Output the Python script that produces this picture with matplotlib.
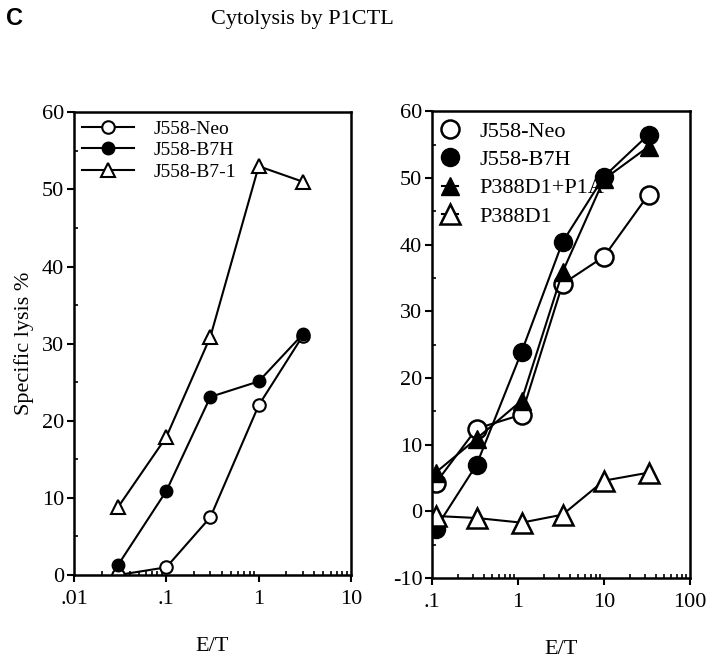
import numpy as np
import matplotlib
matplotlib.use('Agg')
import matplotlib.pyplot as plt
from matplotlib.ticker import FixedLocator, FixedFormatter, LogLocator, MultipleLocator, NullFormatter

plt.rcParams['font.family'] = ['Liberation Serif', 'DejaVu Serif']
plt.rcParams['axes.unicode_minus'] = False

# left panel data
et_left = [0.03, 0.1, 0.3, 1, 3]
neo_left = [0.0, 1.0, 7.5, 22.0, 31.0]
b7h_left = [1.3, 10.9, 23.1, 25.1, 31.2]
b71_left = [8.8, 17.9, 30.9, 53.0, 51.0]

# right panel data
et_right = [0.11, 0.33, 1.1, 3.3, 10, 33]
neo_right = [4.2, 12.4, 14.5, 34.1, 38.2, 47.5]
b7h_right = [-2.6, 7.0, 23.9, 40.4, 50.2, 56.5]
p1a_right = [5.8, 10.9, 16.6, 35.9, 49.8, 54.7]
p388_right = [-0.7, -1.0, -1.7, -0.5, 4.6, 5.8]

left_xticks = [0.01, 0.1, 1, 10]
left_xlabels = ['.01', '.1', '1', '10']
right_xticks = [0.1, 1, 10, 100]
right_xlabels = ['.1', '1', '10', '100']

fig = plt.figure(figsize=(7.2, 6.63), dpi=100)
ax1 = fig.add_axes([0.1028, 0.1327, 0.3847, 0.698])
ax2 = fig.add_axes([0.6, 0.1282, 0.3583, 0.704])

lw = 1.5
ax1.plot(et_left, neo_left, '-o', color='black', mfc='white', mec='black', ms=9, lw=lw, mew=1.5, label='J558-Neo')
ax1.plot(et_left, b7h_left, '-o', color='black', mfc='black', ms=9, lw=lw, label='J558-B7H')
ax1.plot(et_left, b71_left, '-^', color='black', mfc='white', mec='black', ms=10, lw=lw, mew=1.5, label='J558-B7-1')

ax2.plot(et_right, neo_right, '-o', color='black', mfc='white', mec='black', ms=13, lw=lw, mew=1.8, label='J558-Neo')
ax2.plot(et_right, b7h_right, '-o', color='black', mfc='black', ms=13, lw=lw, label='J558-B7H')
ax2.plot(et_right, p1a_right, '-^', color='black', mfc='black', ms=13, lw=lw, label='P388D1+P1A')
ax2.plot(et_right, p388_right, '-^', color='black', mfc='white', mec='black', ms=14, lw=lw, mew=1.8, label='P388D1')

for ax, xt, xl, xlim, ylim in [(ax1, left_xticks, left_xlabels, (0.01, 10), (0, 60)),
                               (ax2, right_xticks, right_xlabels, (0.1, 100), (-10, 60))]:
    ax.set_xscale('log')
    ax.set_xlim(*xlim)
    ax.set_ylim(*ylim)
    ax.xaxis.set_major_locator(FixedLocator(xt))
    ax.xaxis.set_major_formatter(FixedFormatter(xl))
    ax.xaxis.set_minor_locator(LogLocator(base=10, subs=np.arange(2, 10)))
    ax.xaxis.set_minor_formatter(NullFormatter())
    ax.yaxis.set_major_locator(MultipleLocator(10))
    ax.yaxis.set_minor_locator(MultipleLocator(5))
    ax.tick_params(which='major', direction='out', length=5, width=1.5, labelsize=16, pad=6)
    ax.tick_params(which='minor', direction='in', length=3, width=1.2)
    ax.tick_params(axis='y', which='major', pad=2)
    for s in ax.spines.values():
        s.set_linewidth(1.8)

ax1.set_xlabel('E/T', fontsize=16, labelpad=20)
ax2.set_xlabel('E/T', fontsize=16, labelpad=20)
ax1.set_ylabel('Specific lysis %', fontsize=16, labelpad=6)

ax1.legend(loc='upper left', frameon=False, fontsize=14, handlelength=2.7,
           handletextpad=1.0, labelspacing=0.2, borderaxespad=0.2, borderpad=0.2)
ax2.legend(loc='upper left', frameon=False, fontsize=16, handlelength=0.7,
           handletextpad=1.0, labelspacing=0.35, borderaxespad=0.0, borderpad=0.45,
           markerscale=1.0)

fig.text(0.008, 0.99, 'C', fontsize=17, fontweight='bold', family='Liberation Sans', va='top')
fig.text(0.42, 0.985, 'Cytolysis by P1CTL', fontsize=16, va='top', ha='center')

fig.savefig('out.png', dpi=100)
